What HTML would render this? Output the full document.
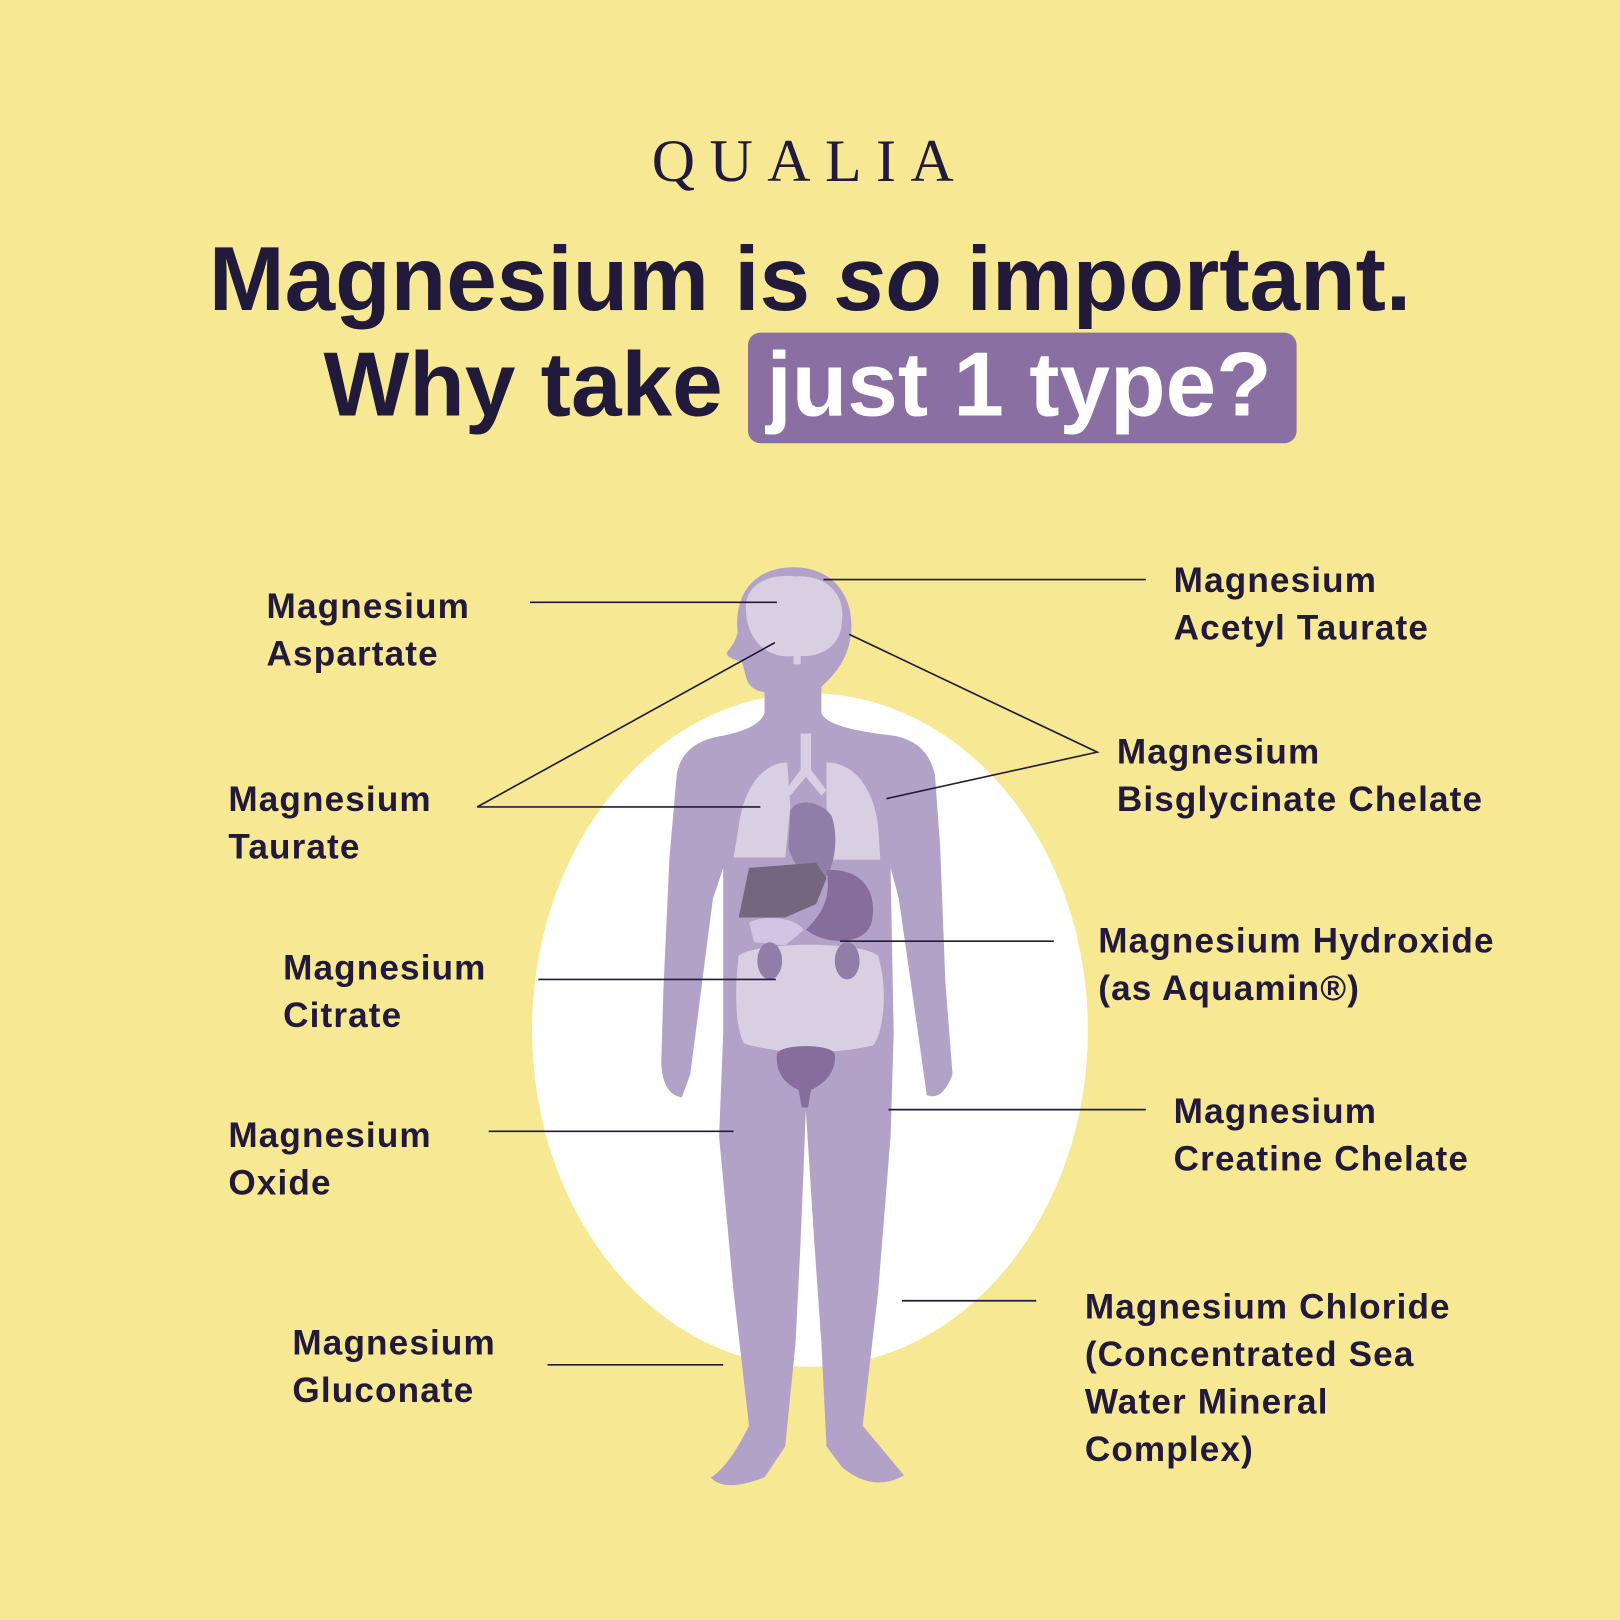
<!DOCTYPE html>
<html><head><meta charset="utf-8"><style>
html,body{margin:0;padding:0;background:#f7e894;}
#wrap{width:1568px;height:1568px;transform:scale(1.03316);transform-origin:0 0;position:relative;overflow:hidden;background:#f7e894;font-family:"Liberation Sans",sans-serif;color:#221a3a;}
.lbl{position:absolute;font-weight:bold;font-size:34px;letter-spacing:1.1px;line-height:46px;white-space:nowrap;}
.logo{position:absolute;top:122px;left:0;width:1568px;text-align:center;font-family:"Liberation Serif",serif;font-size:58px;letter-spacing:14px;color:#221a3a;}
.h{position:absolute;left:0;width:1568px;text-align:center;font-weight:bold;font-size:88px;white-space:nowrap;}
.hl{background:#8a6fa3;color:#fff;border-radius:12px;padding:0 24px 8px 18px;}
svg{position:absolute;left:0;top:0;}
</style></head><body><div id="wrap">
<svg width="1568" height="1568">
<ellipse cx="784" cy="997" rx="269" ry="326" fill="#fff"/>
<g fill="#b3a2c8">
<path d="M768,549 C805,549 826,575 824,610 C822,640 805,655 795,665 L795,690 Q800,705 865,712 Q898,718 905,750 L910,820 L915,950 L922,1040 Q912,1066 897,1060 L890,1010 L870,870 L862,840 L865,1000 L862,1100 L850,1250 L835,1380 Q860,1410 875,1428 Q845,1445 815,1420 L800,1400 L795,1300 L788,1200 L780,1075 L775,1200 L770,1300 L760,1400 L740,1430 Q700,1445 688,1430 Q705,1420 725,1380 L710,1250 L696,1100 L700,1000 L700,840 L690,870 L672,1010 L668,1040 L660,1062 Q642,1060 640,1030 L642,960 L648,830 L655,750 Q660,718 700,712 Q735,705 740,690 L740,670 Q725,668 722,655 L718,640 Q705,638 703,632 Q712,622 714,612 C710,575 730,549 768,549 Z"/>
</g>
<path d="M722,588 C722,562 750,555 770,558 C800,556 818,575 815,600 C815,625 795,636 775,635 L775,643 L768,643 L768,635 C745,638 722,622 722,588 Z" fill="#d8cfe3"/>
<path d="M775,710 L785,710 L785,745 L800,765 L795,770 L780,752 L765,770 L760,765 L775,745 Z" fill="#d8cfe3"/>
<path d="M762,738 C740,738 720,760 715,800 L710,830 L760,830 L765,780 Z" fill="#d8cfe3"/>
<path d="M800,738 C825,738 845,760 850,800 L852,832 L805,832 L800,780 Z" fill="#d8cfe3"/>
<path d="M765,785 C770,772 795,775 805,790 C812,810 808,840 798,850 C785,855 768,840 763,820 Z" fill="#8f7ea8"/>
<path d="M725,840 L790,835 L800,850 L790,875 L760,888 L715,888 Z" fill="#74667f"/>
<path d="M800,842 C840,840 850,870 843,895 C835,915 800,915 780,900 C795,885 805,870 800,842 Z" fill="#876d9c"/>
<path d="M725,893 C740,885 770,888 778,900 L760,915 L730,912 Z" fill="#d5c3e3"/>
<path d="M715,925 C730,912 830,910 850,925 C860,960 855,1000 845,1012 C810,1020 760,1022 720,1010 C710,990 712,950 715,925 Z" fill="#d8cfe3"/>
<ellipse cx="745" cy="930" rx="12" ry="18" fill="#8f7ea8"/>
<ellipse cx="820" cy="930" rx="12" ry="18" fill="#8f7ea8"/>
<path d="M752,1020 C755,1010 805,1010 808,1020 C810,1040 795,1050 785,1055 L782,1072 L776,1072 L773,1055 C762,1050 750,1040 752,1020 Z" fill="#876d9c"/>
<g stroke="#221a3a" stroke-width="1.6" fill="none">
<line x1="513" y1="583" x2="752" y2="583"/>
<line x1="797" y1="561" x2="1109" y2="561"/>
<polyline points="822,614 1062,728 858,773"/>
<polyline points="750,622 462,781 736,781"/>
<line x1="813" y1="911" x2="1020" y2="911"/>
<line x1="521" y1="948" x2="751" y2="948"/>
<line x1="860" y1="1074" x2="1109" y2="1074"/>
<line x1="473" y1="1095" x2="710" y2="1095"/>
<line x1="873" y1="1259" x2="1003" y2="1259"/>
<line x1="530" y1="1321" x2="700" y2="1321"/>
</g>
</svg>
<div class="logo">QUALIA</div>
<div class="h" style="top:220px;line-height:100px;">Magnesium is <i>so</i> important.</div>
<div class="h" style="top:322px;line-height:100px;">Why take <span class="hl">just 1 type?</span></div>
<div class="lbl" style="left:258px;top:564px">Magnesium<br>Aspartate</div>
<div class="lbl" style="left:1136px;top:539px">Magnesium<br>Acetyl Taurate</div>
<div class="lbl" style="left:1081px;top:705px">Magnesium<br>Bisglycinate Chelate</div>
<div class="lbl" style="left:221px;top:751px">Magnesium<br>Taurate</div>
<div class="lbl" style="left:1063px;top:888px">Magnesium Hydroxide<br>(as Aquamin®)</div>
<div class="lbl" style="left:274px;top:914px">Magnesium<br>Citrate</div>
<div class="lbl" style="left:1136px;top:1053px">Magnesium<br>Creatine Chelate</div>
<div class="lbl" style="left:221px;top:1076px">Magnesium<br>Oxide</div>
<div class="lbl" style="left:1050px;top:1242px">Magnesium Chloride<br>(Concentrated Sea<br>Water Mineral<br>Complex)</div>
<div class="lbl" style="left:283px;top:1277px">Magnesium<br>Gluconate</div>
</div></body></html>
